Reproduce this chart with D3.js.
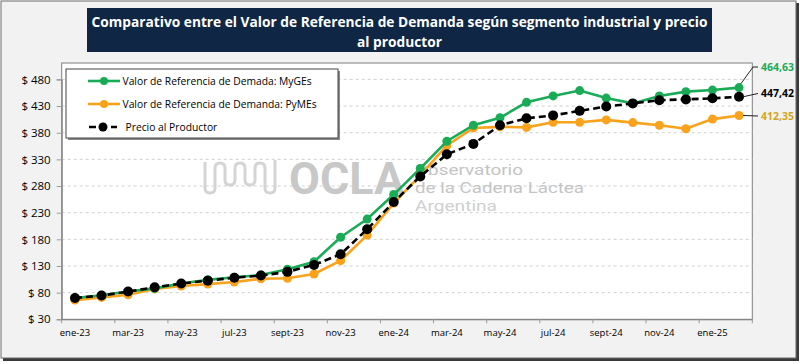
<!DOCTYPE html>
<html>
<head>
<meta charset="utf-8">
<script src="https://cdn.jsdelivr.net/npm/d3@7"></script>
<style>
  body { margin: 0; background: #fff; }
  svg { display: block; font-family: "Open Sans", sans-serif; }
</style>
</head>
<body>
<div id="chart"></div>
<script>
// data
var months = ["ene-23","feb-23","mar-23","abr-23","may-23","jun-23","jul-23","ago-23","sept-23","oct-23","nov-23","dic-23",
              "ene-24","feb-24","mar-24","abr-24","may-24","jun-24","jul-24","ago-24","sept-24","oct-24","nov-24","dic-24",
              "ene-25","feb-25"]
var myges  = [70, 75, 82, 88, 97, 104, 109, 113, 124, 138, 184, 218, 264, 313, 364, 394, 408, 437, 449, 459, 445, 435, 449, 457, 460, 464.63]
var pymes  = [66, 71, 76, 87, 92.5, 96, 100, 106, 107, 115, 140, 188, 248, 300, 356, 389, 391, 390, 399.5, 399.5, 404, 399, 394, 387.5, 405.5, 412.35]
var precio = [70, 74.5, 82, 90, 97, 102.5, 108, 112, 119, 132, 152, 199, 250, 298, 339.5, 359, 394, 407, 412.5, 421, 429, 435, 441, 442.5, 444.5, 447.42]
var yTicks = [30, 80, 130, 180, 230, 280, 330, 380, 430, 480]
var seriesNames = ["Valor de Referencia de Demada: MyGEs", "Valor de Referencia de Demanda: PyMEs", "Precio al Productor"]
var endLabels = ["464,63", "412,35", "447,42"]
var title = ["Comparativo entre el Valor de Referencia de Demanda según segmento industrial y precio", "al productor"]

var width = 800, height = 364
var plot = {left: 61.7, right: 752.3, top: 63, bottom: 319.3}

var svg = d3.select('#chart').append('svg')
  .attr('width', width)
  .attr('height', height)

// frame
svg.append('rect').attr('x', 0).attr('y', 0).attr('width', width).attr('height', height).attr('fill', '#fff')
svg.append('rect').attr('x', 3).attr('y', 3).attr('width', 796).attr('height', 358).attr('fill', '#3a3a3a')
svg.append('rect').attr('x', 1).attr('y', 1).attr('width', 795).attr('height', 357)
  .attr('fill', '#f2f2f2').attr('stroke', '#6b6b6b').attr('stroke-width', 1)

// title box
svg.append('rect').attr('x', 87).attr('y', 8).attr('width', 625).attr('height', 44).attr('fill', '#0f2744')
var titleSize = 16
title.forEach(function(t, i){
  var txt = svg.append('text')
    .attr('x', 399.5).attr('y', 27 + i * 20)
    .attr('text-anchor', 'middle')
    .attr('fill', '#fff')
    .attr('font-weight', 'bold')
    .attr('font-size', titleSize)
    .text(t)
  if (i == 0) {
    titleSize = 16 * 616 / txt.node().getComputedTextLength()
    txt.attr('font-size', titleSize)
  }
})

// plot area
svg.append('rect')
  .attr('x', plot.left).attr('y', plot.top)
  .attr('width', plot.right - plot.left).attr('height', plot.bottom - plot.top)
  .attr('fill', '#fff').attr('stroke', '#7f7f7f').attr('stroke-width', 1)

var x = d3.scaleBand().domain(months).range([plot.left, plot.right])
var y = d3.scaleLinear().domain([30, 480]).range([plot.bottom, 79.4])

// grid
svg.append('g').selectAll('line')
  .data(yTicks.slice(1))
  .enter().append('line')
  .attr('x1', plot.left).attr('x2', plot.right)
  .attr('y1', d => y(d)).attr('y2', d => y(d))
  .attr('stroke', '#d0d0d0').attr('stroke-dasharray', '3,3')

// y axis
var yAxis = svg.append('g')
  .attr('transform', 'translate(' + plot.left + ',0)')
  .call(d3.axisLeft(y).tickValues(yTicks).tickSize(5).tickPadding(6).tickFormat(d => '$ ' + d))
yAxis.select('.domain').attr('stroke', '#7f7f7f')
yAxis.selectAll('.tick line').attr('stroke', '#9a9a9a')
yAxis.selectAll('text').attr('font-size', 11.5).attr('fill', '#000').attr('font-family', '"Open Sans", sans-serif')

// x axis: ticks on every second category boundary
var xAxis = svg.append('g')
  .attr('transform', 'translate(0,' + plot.bottom + ')')
  .call(d3.axisBottom(x).tickValues(months.filter((d, i) => i % 2 == 0)).tickSize(0).tickPadding(10))
xAxis.select('.domain').attr('stroke', '#7f7f7f')
xAxis.selectAll('text').attr('font-size', 9.5).attr('fill', '#000').attr('font-family', '"Open Sans", sans-serif')
xAxis.selectAll('.tick').append('line')
  .attr('x1', -x.bandwidth() / 2).attr('x2', -x.bandwidth() / 2)
  .attr('y1', 0).attr('y2', 4).attr('stroke', '#9a9a9a')
xAxis.append('line')
  .attr('x1', plot.right).attr('x2', plot.right).attr('y1', 0).attr('y2', 4).attr('stroke', '#9a9a9a')

// watermark
var wm = svg.append('g').attr('fill', '#c9c9c9')
var wave = "M205,162 L205,188 Q205,193 210,193 Q215,193 215,188 L215,168 Q215,163 220,163 Q225,163 225,168 L225,180 Q225,185 230,185 Q235,185 235,180 L235,168 Q235,163 240,163 Q245,163 245,168 L245,180 Q245,185 250,185 Q255,185 255,180 L255,168 Q255,163 260,163 Q265,163 265,168 L265,188 Q265,193 270,193 Q275,193 275,188 L275,160"
wm.append('path').attr('d', wave).attr('fill', 'none').attr('stroke', '#d4d4d4').attr('stroke-width', 3)
wm.append('text').attr('x', 289).attr('y', 193.5).attr('font-size', 44).attr('font-weight', 'bold')
  .attr('font-family', 'Roboto, sans-serif').attr('fill', '#c8c8c8')
  .attr('textLength', 115).attr('lengthAdjust', 'spacingAndGlyphs').text('OCLA')
var wmLines = [['Observatorio', 175, '#c4c4c4', 108], ['de la Cadena Láctea', 193, '#c4c4c4', 169], ['Argentina', 211, '#d0d0d0', 82]]
wmLines.forEach(function(l){
  wm.append('text').attr('x', 415).attr('y', l[1])
    .attr('font-size', 14.5).attr('font-family', 'Roboto, sans-serif').attr('fill', l[2])
    .attr('textLength', l[3]).attr('lengthAdjust', 'spacingAndGlyphs')
    .text(l[0])
})

// series
var series = [
  {name: seriesNames[0], values: myges, color: '#1aab57', dash: null, r: 4.5},
  {name: seriesNames[1], values: pymes, color: '#f9a21b', dash: null, r: 4.5},
  {name: seriesNames[2], values: precio, color: '#000', dash: '7,4', r: 5}
]
var line = d3.line()
  .x((d, i) => x(months[i]) + x.bandwidth() / 2)
  .y(d => y(d))

var order = [1, 0, 2]
order.forEach(function(k){
  var s = series[k]
  var g = svg.append('g')
  g.append('path')
    .attr('d', line(s.values))
    .attr('fill', 'none')
    .attr('stroke', s.color)
    .attr('stroke-width', 2.6)
    .attr('stroke-dasharray', s.dash)
  g.selectAll('circle')
    .data(s.values)
    .enter().append('circle')
    .attr('cx', (d, i) => x(months[i]) + x.bandwidth() / 2)
    .attr('cy', d => y(d))
    .attr('r', s.r)
    .attr('fill', s.color)
})

// end labels
var lastX = x(months[months.length - 1]) + x.bandwidth() / 2
var labColors = ['#1aab57', '#d4a51c', '#000']
var labY = [67, 116, 93.5]
var lastVals = [myges[myges.length - 1], pymes[pymes.length - 1], precio[precio.length - 1]]
lastVals.forEach(function(v, i){
  var py = y(v)
  var pts = i == 0 ? [[lastX + 2, py - 4], [lastX + 14, labY[i]], [lastX + 19, labY[i]]]
                   : [[lastX + 4, py], [lastX + 19, labY[i]]]
  svg.append('path')
    .attr('d', d3.line()(pts))
    .attr('fill', 'none').attr('stroke', '#222').attr('stroke-width', 1)
  svg.append('text')
    .attr('x', lastX + 22).attr('y', labY[i])
    .attr('dy', '0.35em')
    .attr('font-size', 10.5).attr('font-weight', 'bold')
    .attr('textLength', 33).attr('lengthAdjust', 'spacingAndGlyphs')
    .attr('fill', labColors[i])
    .text(endLabels[i])
})

// legend
var lg = svg.append('g')
lg.append('rect').attr('x', 68).attr('y', 71).attr('width', 272).attr('height', 69).attr('fill', '#8a8a8a')
lg.append('rect').attr('x', 66).attr('y', 69).attr('width', 272).attr('height', 69)
  .attr('fill', '#fff').attr('stroke', '#444').attr('stroke-width', 1)
series.forEach(function(s, i){
  var ly = 81 + i * 23
  var x0 = i == 2 ? 89 : 88, x1 = i == 2 ? 117 : 120
  lg.append('line').attr('x1', x0).attr('x2', x1).attr('y1', ly).attr('y2', ly)
    .attr('stroke', s.color).attr('stroke-width', 2.6).attr('stroke-dasharray', s.dash)
  lg.append('circle').attr('cx', (x0 + x1) / 2).attr('cy', ly).attr('r', s.r - 0.5).attr('fill', s.color)
  lg.append('text').attr('x', i == 2 ? 125.5 : 122.5).attr('y', ly).attr('dy', '0.35em')
    .attr('font-size', 10.3).attr('fill', '#000').text(s.name)
})
</script>
</body>
</html>
